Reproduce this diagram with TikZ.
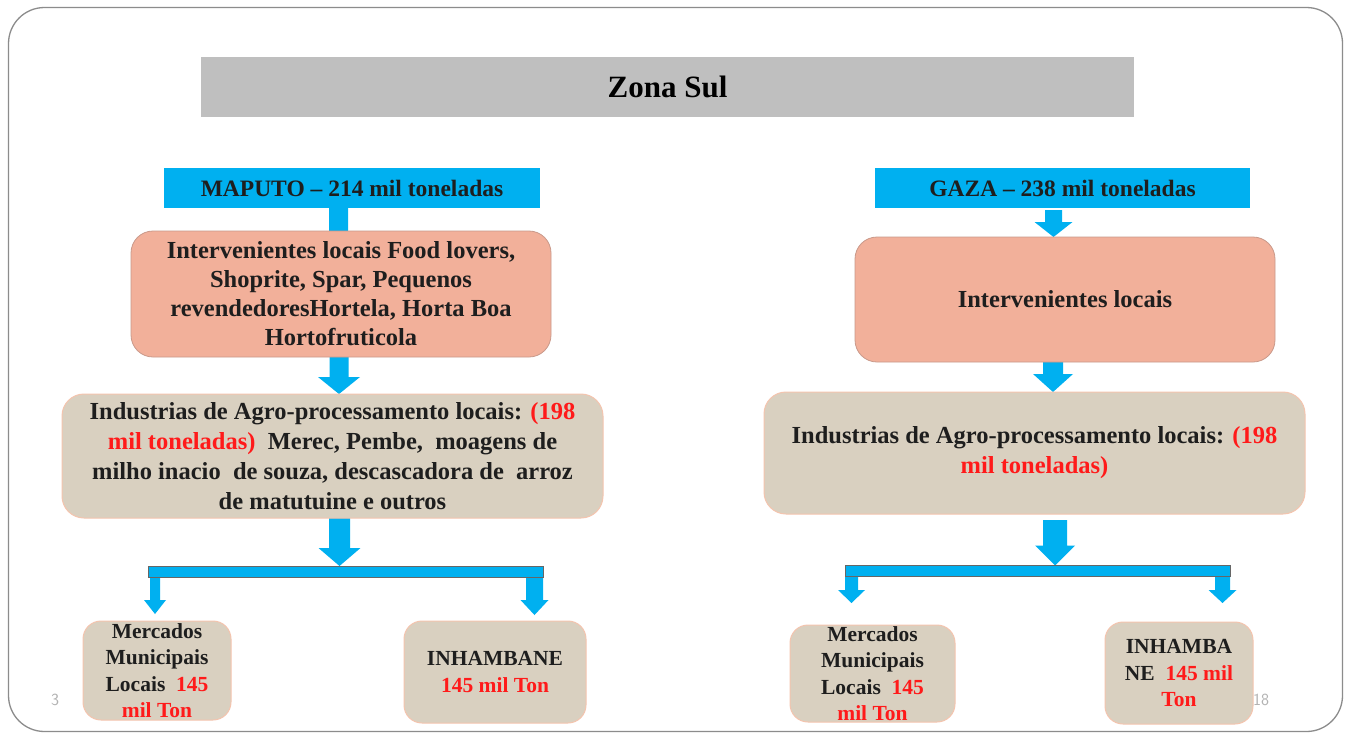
\documentclass[tikz,border=0pt]{standalone}
\usepackage{fontspec}
\setmainfont{Liberation Serif}
\usetikzlibrary{calc}
\pgfdeclarelayer{bg}
\pgfsetlayers{bg,main}
\definecolor{cyanb}{HTML}{00B0F0}
\definecolor{salmon}{HTML}{F2B09A}
\definecolor{salmonline}{HTML}{C9998A}
\definecolor{beige}{HTML}{D9D0C0}
\definecolor{beigeline}{HTML}{F4C4AE}
\definecolor{titlegray}{HTML}{BFBFBF}
\definecolor{txt}{HTML}{1E1E1E}
\definecolor{redt}{HTML}{FF1A1A}
\definecolor{framegray}{HTML}{8C8C8C}
\newcommand\rd[1]{\textcolor{redt}{#1}}
% block arrow: #1 x (pt), #2 start point, #3 tip point, #4 stem half, #5 head half, #6 head length
\newcommand\blockarr[6]{%
  \fill[cyanb] let \p1=(#2), \p2=(#3) in
    (#1-#4,\y1) -- (#1+#4,\y1) -- (#1+#4,\y2+#6) -- (#1+#5,\y2+#6) --
    (#1,\y2) -- (#1-#5,\y2+#6) -- (#1-#4,\y2+#6) -- cycle;}
\begin{document}
\begin{tikzpicture}[x=1pt,y=-1pt,
  every node/.style={inner sep=0pt,outer sep=0pt,align=center,text=txt,font=\bfseries},
  titlebox/.style={fill=titlegray,minimum width=933pt,minimum height=60pt,font=\fontsize{31}{34}\selectfont\bfseries,text=black},
  provbox/.style={fill=cyanb,minimum height=40pt,font=\fontsize{23.5}{26}\selectfont\bfseries},
  salbox/.style={fill=salmon,draw=salmonline,line width=0.8pt,rounded corners=22pt,font=\fontsize{24.5}{29}\selectfont\bfseries},
  indbox/.style={fill=beige,draw=beigeline,line width=1pt,rounded corners=22pt,font=\fontsize{24.5}{30}\selectfont\bfseries},
  smallbox/.style={fill=beige,draw=beigeline,line width=1pt,rounded corners=18pt,font=\fontsize{21.5}{26.5}\selectfont\bfseries},
  barbox/.style={fill=cyanb,draw=gray!80!black,line width=0.8pt,minimum height=11pt},
  pagenum/.style={text=gray!60,font=\fontsize{17}{20}\selectfont\sffamily}]
\useasboundingbox (0,0) rectangle (1346,734);
\begin{pgfonlayer}{bg}
\fill[white] (0,0) rectangle (1346,734);
\end{pgfonlayer}
\draw[framegray,line width=1.3pt,rounded corners=36pt] (8.5,7.5) rectangle (1342.5,731.5);

\node[titlebox] (title) at (667.5,87) {Zona Sul};

% ---------- left column ----------
\node[provbox,minimum width=376pt] (maputo) at (352,188) {MAPUTO – 214 mil toneladas};
\node[salbox,minimum width=420pt,minimum height=126pt] (lint) at (341,294)
  {Intervenientes locais Food lovers,\\ Shoprite, Spar, Pequenos\\ revendedoresHortela, Horta Boa\\ Hortofruticola};
\node[indbox,minimum width=541pt,minimum height=124pt] (lind) at (332.5,456)
  {Industrias de Agro-processamento locais: \rd{(198}\\ \rd{mil toneladas)}\ \ Merec, Pembe,\ \ moagens de\\ milho inacio\ \ de souza, descascadora de\ \ arroz\\ de matutuine e outros};
\node[barbox,minimum width=395pt] (lbar) at (345.5,571.5) {};
\node[smallbox,minimum width=148pt,minimum height=99pt] (lmer) at (157,670.5)
  {Mercados\\ Municipais\\ Locais\ \ \rd{145}\\ \rd{mil Ton}};
\node[smallbox,minimum width=182pt,minimum height=102pt] (linh) at (495,672)
  {INHAMBANE\\ \rd{145 mil Ton}};

% ---------- right column ----------
\node[provbox,minimum width=375pt] (gaza) at (1062.5,188) {GAZA – 238 mil toneladas};
\node[salbox,minimum width=420pt,minimum height=125pt] (rint) at (1065,299.5) {Intervenientes locais};
\node[indbox,minimum width=541pt,minimum height=122pt] (rind) at (1034.5,453)
  {Industrias de Agro-processamento locais: \rd{(198}\\ \rd{mil toneladas)}};
\node[barbox,minimum width=385pt] (rbar) at (1037.5,571) {};
\node[smallbox,minimum width=165pt,minimum height=97pt] (rmer) at (872.5,673.5)
  {Mercados\\ Municipais\\ Locais\ \ \rd{145}\\ \rd{mil Ton}};
\node[smallbox,minimum width=148pt,minimum height=102pt] (rinh) at (1179,673)
  {INHAMBA\\ NE\ \ \rd{145 mil}\\ \rd{Ton}};

\node[pagenum] (pg1) at (55,700) {3};
\node[pagenum] (pg2) at (1261,700) {18};

% ---------- arrows ----------
\begin{pgfonlayer}{bg}
\blockarr{338.5pt}{maputo.south}{lint.center}{9.5pt}{20pt}{18pt}
\blockarr{339pt}{lint.south}{lind.north}{9.5pt}{21pt}{17pt}
\blockarr{339.5pt}{lind.south}{lbar.north}{10.5pt}{21pt}{18pt}
\blockarr{155pt}{lbar.south}{$(lmer.north)+(0,-7)$}{5pt}{11pt}{14pt}
\blockarr{534.5pt}{lbar.south}{$(linh.north)+(0,-6)$}{8.5pt}{14pt}{15pt}

\blockarr{1053.5pt}{$(gaza.south)+(0,2)$}{rint.north}{8.5pt}{19pt}{15pt}
\blockarr{1053pt}{rint.south}{rind.north}{10pt}{20pt}{18pt}
\blockarr{1055pt}{$(rind.south)+(0,6)$}{rbar.north}{12pt}{20pt}{20pt}
\blockarr{851.5pt}{rbar.south}{$(rmer.north)+(0,-22)$}{6.5pt}{13.5pt}{13pt}
\blockarr{1222.5pt}{rbar.south}{$(rinh.north)+(0,-19)$}{7.5pt}{14pt}{13pt}
\end{pgfonlayer}
\end{tikzpicture}
\end{document}
